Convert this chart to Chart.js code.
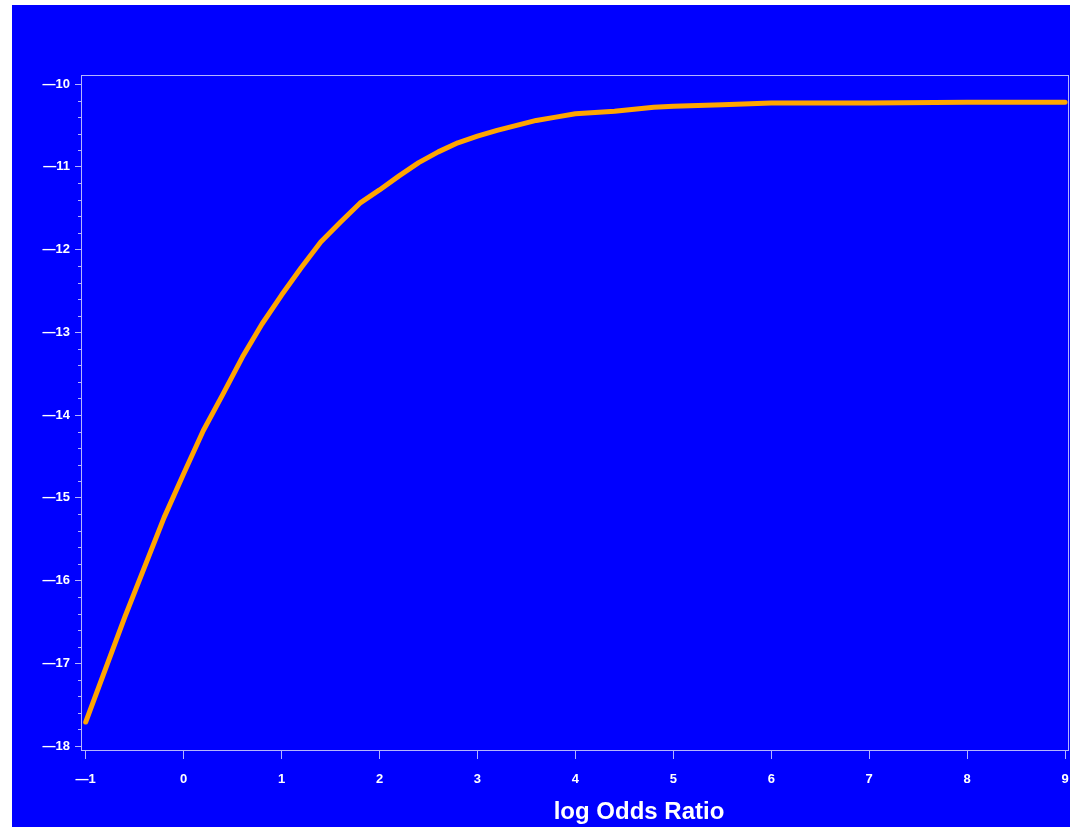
<!DOCTYPE html>
<html>
<head>
<meta charset="utf-8">
<script src="https://cdn.jsdelivr.net/npm/chart.js@4/dist/chart.umd.min.js"></script>
<style>
  html, body { margin: 0; padding: 0; background: #ffffff; }
  #wrap { position: absolute; left: 12px; top: 5px; width: 1058px; height: 822px; background: #0000ff; }
</style>
</head>
<body>
<div id="wrap"><canvas id="c"></canvas></div>
<script>
// Data
const xValues = [-1, -0.6, -0.2, 0, 0.2, 0.4, 0.6, 0.8, 1.0, 1.2, 1.4, 1.6, 1.8, 2.0, 2.2, 2.4, 2.6, 2.8, 3.0, 3.2, 3.4, 3.6, 3.8, 4.0, 4.4, 4.8, 5.0, 5.5, 6.0, 7.0, 8.0, 9.0];
const yValues = [-17.71, -16.44, -15.24, -14.71, -14.19, -13.75, -13.30, -12.90, -12.55, -12.22, -11.91, -11.67, -11.44, -11.28, -11.11, -10.95, -10.82, -10.71, -10.63, -10.56, -10.50, -10.44, -10.40, -10.36, -10.33, -10.28, -10.27, -10.25, -10.23, -10.23, -10.22, -10.22];
const xTicks = [-1, 0, 1, 2, 3, 4, 5, 6, 7, 8, 9];
const yTicks = [-18, -17, -16, -15, -14, -13, -12, -11, -10];
const yMinorStep = 0.2;
const xTitle = 'log Odds Ratio';

const frameColor = '#b4b4ff';
const fmt = v => (v < 0 ? '\u2014' + Math.abs(v) : String(v));

const framePlugin = {
  id: 'frame',
  afterDraw(chart) {
    const ctx = chart.ctx, a = chart.chartArea, ys = chart.scales.y;
    ctx.save();
    ctx.strokeStyle = frameColor;
    ctx.lineWidth = 1;
    ctx.strokeRect(a.left + 0.5, a.top + 0.5, a.right - a.left - 1, a.bottom - a.top - 1);
    // minor ticks on y axis
    for (let i = 0; i < yTicks.length - 1; i++) {
      for (let k = 1; k < 5; k++) {
        const v = yTicks[i] + k * yMinorStep;
        const py = Math.round(ys.getPixelForValue(v)) + 0.5;
        ctx.beginPath();
        ctx.moveTo(a.left - 3, py);
        ctx.lineTo(a.left, py);
        ctx.stroke();
      }
    }
    // x axis title
    ctx.fillStyle = '#ffffff';
    ctx.font = 'bold 24px "Liberation Sans", Arial, sans-serif';
    ctx.textAlign = 'center';
    ctx.textBaseline = 'middle';
    ctx.fillText(xTitle, 627, 807);
    ctx.restore();
  }
};

new Chart(document.getElementById('c'), {
  type: 'line',
  data: {
    datasets: [{
      data: xValues.map((x, i) => ({ x: x, y: yValues[i] })),
      borderColor: '#ffa500',
      borderWidth: 5,
      pointRadius: 0,
      tension: 0,
      fill: false,
      borderCapStyle: 'round',
      borderJoinStyle: 'round'
    }]
  },
  options: {
    responsive: true,
    maintainAspectRatio: false,
    animation: false,
    layout: { padding: { top: 70, right: 1, left: 0, bottom: 0 } },
    plugins: { legend: { display: false }, tooltip: { enabled: false } },
    scales: {
      x: {
        type: 'linear',
        min: -1.048,
        max: 9.04,
        afterBuildTicks: s => { s.ticks = xTicks.map(v => ({ value: v })); },
        afterFit: s => { s.height = 76; s.paddingLeft = 0; s.paddingRight = 0; },
        grid: { drawOnChartArea: false, drawTicks: true, tickLength: 8, color: frameColor },
        border: { display: false },
        ticks: {
          color: '#ffffff',
          font: { family: '"Liberation Sans", Arial, sans-serif', size: 13, weight: 'bold' },
          padding: 13,
          maxRotation: 0,
          autoSkip: false,
          callback: v => fmt(v)
        }
      },
      y: {
        type: 'linear',
        min: -18.06,
        max: -9.891,
        afterBuildTicks: s => { s.ticks = yTicks.map(v => ({ value: v })); },
        afterFit: s => { s.width = 69; s.paddingTop = 0; s.paddingBottom = 0; },
        grid: { drawOnChartArea: false, drawTicks: true, tickLength: 6, color: frameColor },
        border: { display: false },
        ticks: {
          color: '#ffffff',
          font: { family: '"Liberation Sans", Arial, sans-serif', size: 13, weight: 'bold' },
          padding: 5,
          autoSkip: false,
          callback: v => fmt(v)
        }
      }
    }
  },
  plugins: [framePlugin]
});
</script>
</body>
</html>
